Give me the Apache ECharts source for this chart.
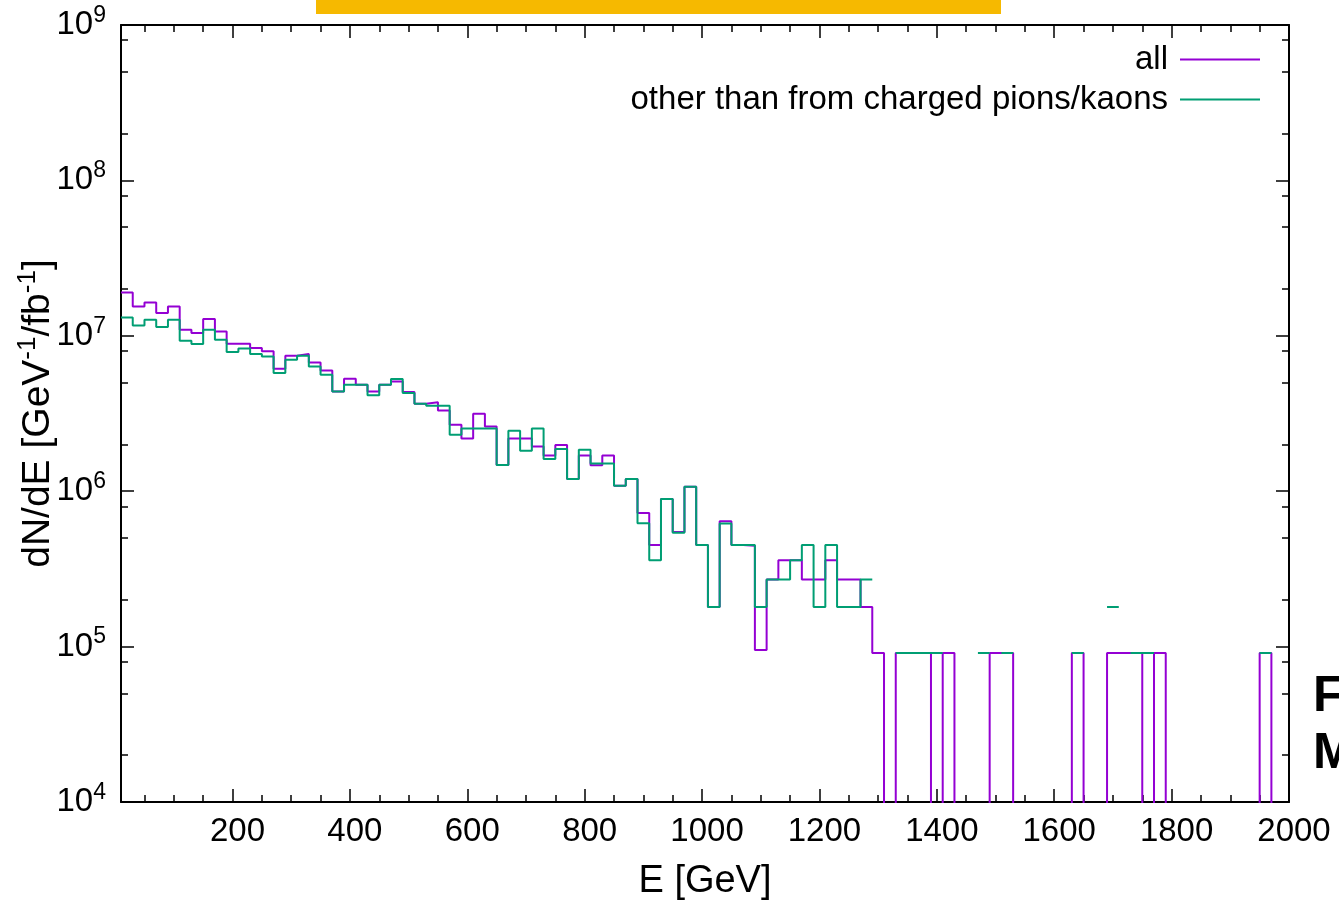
<!DOCTYPE html>
<html>
<head>
<meta charset="utf-8">
<script src="https://cdn.jsdelivr.net/npm/echarts@6/dist/echarts.min.js"></script>
<style>
html,body{margin:0;padding:0;background:#fff;}
#chart{width:1339px;height:900px;}
</style>
</head>
<body>
<div id="chart"></div>
<script>
// ---- data ----
const BIN_WIDTH = 20; // GeV
const binCenters = [20,40,60,80,100,120,140,160,180,200,220,240,260,280,300,320,340,360,380,400,
  420,440,460,480,500,520,540,560,580,600,620,640,660,680,700,720,740,760,780,800,
  820,840,860,880,900,920,940,960,980,1000,1020,1040,1060,1080,1100,1120,1140,1160,1180,1200,
  1220,1240,1260,1280,1300,1320,1340,1360,1380,1400,1420,1440,1460,1480,1500,1520,1540,1560,1580,1600,
  1620,1640,1660,1680,1700,1720,1740,1760,1780,1800,1820,1840,1860,1880,1900,1920,1940,1960,1980];

const allValues = [
  1.90e7,1.545e7,1.64e7,1.40e7,1.545e7,1.094e7,1.042e7,1.282e7,1.067e7,8.89e6,
  8.89e6,8.34e6,7.94e6,6.14e6,7.45e6,7.64e6,6.74e6,5.98e6,4.38e6,5.30e6,
  4.84e6,4.38e6,4.84e6,5.09e6,4.35e6,3.66e6,3.73e6,3.31e6,2.68e6,2.18e6,
  3.15e6,2.61e6,1.475e6,2.18e6,2.18e6,1.94e6,1.70e6,1.98e6,1.20e6,1.70e6,
  1.47e6,1.70e6,1.085e6,1.20e6,7.23e5,4.5e5,8.9e5,5.46e5,1.07e6,4.5e5,
  1.8e5,6.4e5,4.5e5,4.45e5,9.5e4,2.7e5,3.6e5,3.6e5,2.7e5,2.7e5,
  3.6e5,2.7e5,2.7e5,1.8e5,9.1e4,0,9.1e4,9.1e4,9.1e4,0,
  9.1e4,0,0,0,9.1e4,9.1e4,0,0,0,0,
  0,9.1e4,0,0,9.1e4,9.1e4,9.1e4,0,9.1e4,0,
  0,0,0,0,0,0,0,9.1e4,0];

const otherValues = [
  1.313e7,1.166e7,1.27e7,1.14e7,1.27e7,9.30e6,8.85e6,1.094e7,9.44e6,7.87e6,
  8.30e6,7.64e6,7.37e6,5.76e6,7.02e6,7.45e6,6.35e6,5.62e6,4.38e6,4.84e6,
  4.84e6,4.14e6,4.84e6,5.27e6,4.29e6,3.66e6,3.55e6,3.55e6,2.31e6,2.53e6,
  2.53e6,2.53e6,1.475e6,2.45e6,1.82e6,2.53e6,1.61e6,1.87e6,1.20e6,1.85e6,
  1.51e6,1.51e6,1.085e6,1.20e6,6.23e5,3.6e5,8.9e5,5.4e5,1.07e6,4.5e5,
  1.8e5,6.2e5,4.5e5,4.5e5,1.8e5,2.7e5,2.7e5,3.6e5,4.5e5,1.8e5,
  4.5e5,1.8e5,1.8e5,2.7e5,0,0,9.1e4,9.1e4,9.1e4,9.1e4,
  0,0,0,9.1e4,0,9.1e4,0,0,0,0,
  0,9.1e4,0,0,1.8e5,0,9.1e4,9.1e4,0,0,
  0,0,0,0,0,0,0,9.1e4,0];

const seriesNames = ['all', 'other than from charged pions/kaons'];
const xMajorTicks = [200,400,600,800,1000,1200,1400,1600,1800,2000];
const xMinorTicks = [50,100,150,250,300,350,450,500,550,650,700,750,850,900,950,1050,1100,1150,
  1250,1300,1350,1450,1500,1550,1650,1700,1750,1850,1900,1950];
const yMajorTicks = [1e4,1e5,1e6,1e7,1e8,1e9];
const yMinorTicks = [2e4,5e4,8e4,2e5,5e5,8e5,2e6,5e6,8e6,2e7,5e7,8e7,2e8,5e8,8e8];

// ---- build histogram step paths ----
const FONT = '"Liberation Sans", Arial, sans-serif';
const Y_MIN = 1e4, Y_MAX = 1e9, X_MIN = 10, X_MAX = 2000;

// zeros of "all" fall off the bottom of the log axis; zeros of the other series are gaps
function stepData(vals, zeroAsGap) {
  const out = [];
  for (let i = 0; i < binCenters.length; i++) {
    const lo = binCenters[i] - BIN_WIDTH / 2, hi = binCenters[i] + BIN_WIDTH / 2;
    const v = vals[i];
    if (v > 0) { out.push([lo, v]); out.push([hi, v]); }
    else if (zeroAsGap) { out.push([binCenters[i], null]); }
    else { out.push([lo, 1]); out.push([hi, 1]); }
  }
  return out;
}

const chart = echarts.init(document.getElementById('chart'), null, {renderer: 'canvas'});

const tickLine = {color: '#000', width: 1.5};
function xAxisDef(pos, ticks, len, showLine, showLabel) {
  return {
    type: 'value', position: pos, min: X_MIN, max: X_MAX,
    axisLine: {show: showLine, lineStyle: {color: '#000', width: 2}},
    axisTick: {show: true, inside: true, length: len, customValues: ticks, lineStyle: tickLine},
    axisLabel: showLabel ? {show: true, customValues: ticks, margin: 13, fontSize: 33, fontFamily: FONT, color: '#000',
      padding: [0, 0, 0, 10], formatter: v => String(v)} : {show: false},
    splitLine: {show: false}
  };
}
function yAxisDef(pos, ticks, len, showLine, showLabel) {
  return {
    type: 'log', logBase: 10, position: pos, min: Y_MIN, max: Y_MAX,
    axisLine: {show: showLine, lineStyle: {color: '#000', width: 2}},
    axisTick: {show: true, inside: true, length: len, customValues: ticks, lineStyle: tickLine},
    axisLabel: showLabel ? {
      show: true, customValues: ticks, margin: 15, color: '#000',
      formatter: v => '{b|10}{s|' + Math.round(Math.log10(v)) + '}',
      rich: {
        b: {fontSize: 33, fontFamily: FONT, color: '#000', lineHeight: 42},
        s: {fontSize: 23, fontFamily: FONT, color: '#000', verticalAlign: 'top'}
      }
    } : {show: false},
    splitLine: {show: false}
  };
}

const xAxes = [
  Object.assign(xAxisDef('bottom', xMajorTicks, 13, true, true), {
    name: 'E [GeV]', nameLocation: 'middle', nameGap: 61, nameMoveOverlap: false,
    nameTextStyle: {fontSize: 38, fontFamily: FONT, color: '#000'}
  }),
  xAxisDef('bottom', xMinorTicks, 7, false, false),
  xAxisDef('top', xMajorTicks, 13, true, false),
  xAxisDef('top', xMinorTicks, 7, false, false)
];
const yAxes = [
  Object.assign(yAxisDef('left', yMajorTicks, 13, true, true), {
    name: '{m|dN/dE [GeV}{s|-1}{m|/fb}{s|-1}{m|]}', nameLocation: 'middle', nameGap: 60, nameRotate: 90,
    nameMoveOverlap: false,
    nameTextStyle: {
      rich: {
        m: {fontSize: 39, fontFamily: FONT, color: '#000', lineHeight: 46},
        s: {fontSize: 26, fontFamily: FONT, color: '#000', verticalAlign: 'top'}
      }
    }
  }),
  yAxisDef('left', yMinorTicks, 7, false, false),
  yAxisDef('right', yMajorTicks, 13, true, false),
  yAxisDef('right', yMinorTicks, 7, false, false)
];

const legendBase = {
  orient: 'vertical', right: 74, align: 'right', icon: 'rect',
  itemWidth: 80, itemHeight: 2, selectedMode: false,
  textStyle: {fontSize: 33, fontFamily: FONT, color: '#000', padding: [0, 7, 0, 0]}
};

chart.setOption({
  animation: false,
  backgroundColor: '#fff',
  grid: {left: 121, top: 25, width: 1168, height: 777, containLabel: false, outerBoundsMode: 'none'},
  xAxis: xAxes,
  yAxis: yAxes,
  legend: [
    Object.assign({}, legendBase, {data: [seriesNames[0]], top: 38}),
    Object.assign({}, legendBase, {data: [seriesNames[1]], top: 78})
  ],
  series: [
    {
      name: seriesNames[0], type: 'line', xAxisIndex: 0, yAxisIndex: 0,
      data: stepData(allValues, false), showSymbol: false, symbol: 'none', clip: true,
      color: '#9400D3', lineStyle: {color: '#9400D3', width: 2}, connectNulls: false
    },
    {
      name: seriesNames[1], type: 'line', xAxisIndex: 0, yAxisIndex: 0,
      data: stepData(otherValues, true), showSymbol: false, symbol: 'none', clip: true,
      color: '#009E73', lineStyle: {color: '#009E73', width: 2}, connectNulls: false
    }
  ],
  graphic: [
    {type: 'rect', left: 316, top: 0, shape: {width: 685, height: 14}, style: {fill: '#F6B900'}, silent: true},
    {type: 'text', x: 1313, y: 697, style: {text: 'F', font: 'bold 50px "Liberation Sans", Arial, sans-serif', fill: '#000', verticalAlign: 'middle'}, silent: true},
    {type: 'text', x: 1313, y: 754, style: {text: 'M', font: 'bold 50px "Liberation Sans", Arial, sans-serif', fill: '#000', verticalAlign: 'middle'}, silent: true}
  ]
});
</script>
</body>
</html>
